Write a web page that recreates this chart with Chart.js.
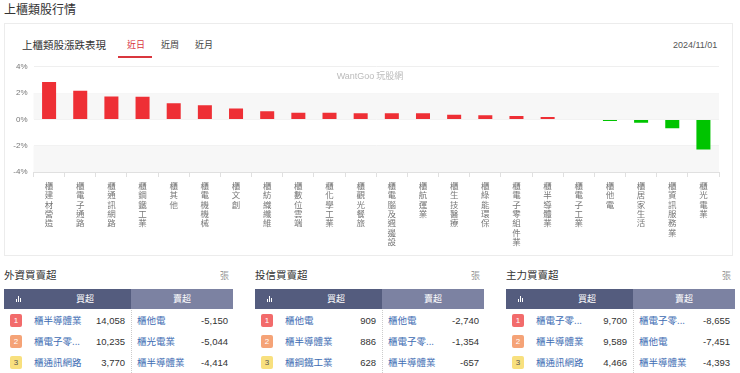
<!DOCTYPE html>
<html>
<head>
<meta charset="utf-8">
<script src="https://cdn.jsdelivr.net/npm/chart.js@4.4.1/dist/chart.umd.min.js"></script>
<style>
  body { margin: 0; width: 740px; height: 373px; overflow: hidden; background: #fff;
         font-family: "Noto Sans CJK TC", "Noto Sans", sans-serif; color: #333; position: relative; }
  .abs { position: absolute; white-space: nowrap; }
  .lat { font-family: "Liberation Sans", Arial, sans-serif; }
  #pageTitle { left: 4px; top: 0px; font-size: 12px; line-height: 18px; color: #333; }
  #card { left: 4px; top: 23px; width: 729px; height: 233px; border: 1px solid #ececec; box-sizing: border-box; }
  #cardTitle { left: 22px; top: 37px; font-size: 10.5px; line-height: 16px; color: #333; }
  .tab { top: 37px; font-size: 9px; line-height: 16px; color: #444; }
  .tab.on { color: #d9363e; }
  #tabLine { left: 118px; top: 56px; width: 34px; height: 2px; background: #d9363e; }
  #date { left: 673px; top: 37px; font-size: 9px; line-height: 16px; color: #555; }
  #chartBox { left: 5px; top: 56px; width: 728px; height: 200px; }
  #mark { left: 0; width: 740px; top: 69px; line-height: 14px; text-align: center; font-size: 9px; color: #bbb; }
  .panel { top: 266px; width: 229px; height: 107px; }
  .ptitle { position: absolute; left: 0; top: 1px; font-size: 10.5px; line-height: 16px; color: #333; }
  .unit { position: absolute; right: 4px; top: 3px; font-size: 9px; line-height: 14px; color: #999; }
  .hdr { position: absolute; top: 23px; height: 20px; line-height: 20px; color: #fff; font-size: 9px; }
  .hdrL { left: 0; width: 127px; background: #545c7e; }
  .hdrR { left: 127px; width: 102px; background: #7c82a2; text-align: center; }
  .ico { position: absolute; bottom: 7px; width: 1px; background: #fff; }
  .row { position: absolute; left: 0; width: 229px; height: 21px; font-size: 9.5px; line-height: 21px; }
  .badge { position: absolute; left: 6px; top: 4px; width: 12px; height: 13px; line-height: 13px; font-size: 8px;
           text-align: center; color: #fff; border-radius: 2px; font-family: "Liberation Sans", sans-serif; }
  .nm { position: absolute; color: #3d6cb3; }
  .num { position: absolute; text-align: right; color: #333; font-size: 9.5px; font-family: "Liberation Sans", Arial, sans-serif; }
  .div { position: absolute; left: 127px; top: 44px; height: 63px; border-left: 1px dotted #ccc; }
</style>
</head>
<body>
<div class="abs" id="pageTitle">上櫃類股行情</div>
<div class="abs" id="card"></div>
<div class="abs" id="cardTitle">上櫃類股漲跌表現</div>
<div class="abs tab on" style="left:127px">近日</div>
<div class="abs tab" style="left:161px">近周</div>
<div class="abs tab" style="left:195px">近月</div>
<div class="abs" id="tabLine"></div>
<div class="abs lat" id="date">2024/11/01</div>
<div class="abs" id="chartBox"><canvas id="myChart"></canvas></div>
<div class="abs" id="mark"><span class="lat">WantGoo</span> 玩股網</div>
<div id="tables"></div>

<script>
const categories = ["櫃建材營造", "櫃電子通路", "櫃通訊網路", "櫃鋼鐵工業", "櫃其他", "櫃電機機械", "櫃文創",
    "櫃紡織纖維", "櫃數位雲端", "櫃化學工業", "櫃觀光餐旅", "櫃電腦及週邊設", "櫃航運業", "櫃生技醫療",
    "櫃綠能環保", "櫃電子零組件業", "櫃半導體業", "櫃電子工業", "櫃他電", "櫃居家生活", "櫃資訊服務業", "櫃光電業"];
const changes = [2.85, 2.18, 1.74, 1.73, 1.23, 1.08, 0.82, 0.62, 0.51, 0.51, 0.46,
    0.46, 0.46, 0.36, 0.31, 0.26, 0.18, 0, -0.13, -0.26, -0.67, -2.28];
const yTicks = [-4, -2, 0, 2, 4];

const panelTitles = ["外資買賣超", "投信買賣超", "主力買賣超"];
const buyNames = [["櫃半導體業", "櫃電子零...", "櫃通訊網路"], ["櫃他電", "櫃半導體業", "櫃鋼鐵工業"], ["櫃電子零...", "櫃半導體業", "櫃通訊網路"]];
const buyValues = [[14058, 10235, 3770], [909, 886, 628], [9700, 9589, 4466]];
const sellNames = [["櫃他電", "櫃光電業", "櫃半導體業"], ["櫃他電", "櫃電子零...", "櫃半導體業"], ["櫃電子零...", "櫃他電", "櫃半導體業"]];
const sellValues = [[-5150, -5044, -4414], [-2740, -1354, -657], [-8655, -7451, -4393]];
const badgeColors = ["#f26b6b", "#f5a377", "#f8e07e"];

const bandPlugin = {
    id: "bands",
    beforeDatasetsDraw: (chart) => {
        const { ctx, chartArea, scales } = chart;
        ctx.save();
        ctx.fillStyle = "#f7f7f7";
        [[0, 2], [-4, -2]].forEach(([a, b]) => {
            const y1 = scales.y.getPixelForValue(b);
            const y2 = scales.y.getPixelForValue(a);
            ctx.fillRect(chartArea.left, y1, chartArea.right - chartArea.left, y2 - y1);
        });
        ctx.restore();
    },
};

const renderChart = () => {
    const ctx = document.getElementById("myChart");
    new Chart(ctx, {
        type: "bar",
        data: {
            labels: categories.map((c) => c.split("")),
            datasets: [
                {
                    data: changes,
                    backgroundColor: changes.map((v) => (v >= 0 ? "#ee2f35" : "#00c400")),
                    categoryPercentage: 0.9,
                    barPercentage: 0.5,
                },
            ],
        },
        options: {
            responsive: true,
            maintainAspectRatio: false,
            animation: false,
            layout: { padding: { top: 2, right: 14, left: 0, bottom: 0 } },
            plugins: { legend: { display: false }, tooltip: { enabled: false } },
            scales: {
                x: {
                    grid: { offset: true, drawOnChartArea: false, tickLength: 5, color: "#e0e0e0" },
                    border: { color: "#e0e0e0" },
                    ticks: {
                        maxRotation: 0, minRotation: 0, autoSkip: false, padding: 4, color: "#777",
                        font: { size: 8.5, lineHeight: 1.1, family: "'Noto Sans CJK TC'" },
                    },
                    afterFit: (scale) => { scale.height = 84; },
                },
                y: {
                    min: -4, max: 4,
                    afterBuildTicks: (scale) => { scale.ticks = yTicks.map((v) => ({ value: v })); },
                    grid: { color: "#efefef", drawTicks: false },
                    border: { display: false },
                    ticks: {
                        padding: 6, color: "#777",
                        font: { size: 8, family: "'Liberation Sans'" },
                        callback: (v) => v + "%",
                    },
                    afterFit: (scale) => { scale.width = 28.5; },
                },
            },
        },
        plugins: [bandPlugin],
    });
};

const fmt = (n) => n.toLocaleString("en-US");

const renderTables = () => {
    const host = document.getElementById("tables");
    let html = "";
    panelTitles.forEach((t, p) => {
        const left = 4 + p * 251;
        html += `<div class="abs panel" style="left:${left}px">`;
        html += `<div class="ptitle">${t}</div><div class="unit">張</div>`;
        html += `<div class="hdr hdrL">`;
        html += `<div class="ico" style="left:12px;height:3px"></div><div class="ico" style="left:14px;height:6px"></div><div class="ico" style="left:16px;height:4px"></div>`;
        html += `<span style="position:absolute;left:72px">買超</span></div>`;
        html += `<div class="hdr hdrR">賣超</div>`;
        for (let i = 0; i < 3; i++) {
            const top = 44 + i * 21;
            html += `<div class="row" style="top:${top}px">`;
            html += `<div class="badge" style="background:${badgeColors[i]};color:${i === 2 ? "#555" : "#fff"}">${i + 1}</div>`;
            html += `<div class="nm" style="left:30px">${buyNames[p][i]}</div>`;
            html += `<div class="num" style="right:108px">${fmt(buyValues[p][i])}</div>`;
            html += `<div class="nm" style="left:133px">${sellNames[p][i]}</div>`;
            html += `<div class="num" style="right:5px">${fmt(sellValues[p][i])}</div>`;
            html += `</div>`;
        }
        html += `<div class="div"></div></div>`;
    });
    host.innerHTML = html;
};

renderTables();
renderChart();
</script>
</body>
</html>
